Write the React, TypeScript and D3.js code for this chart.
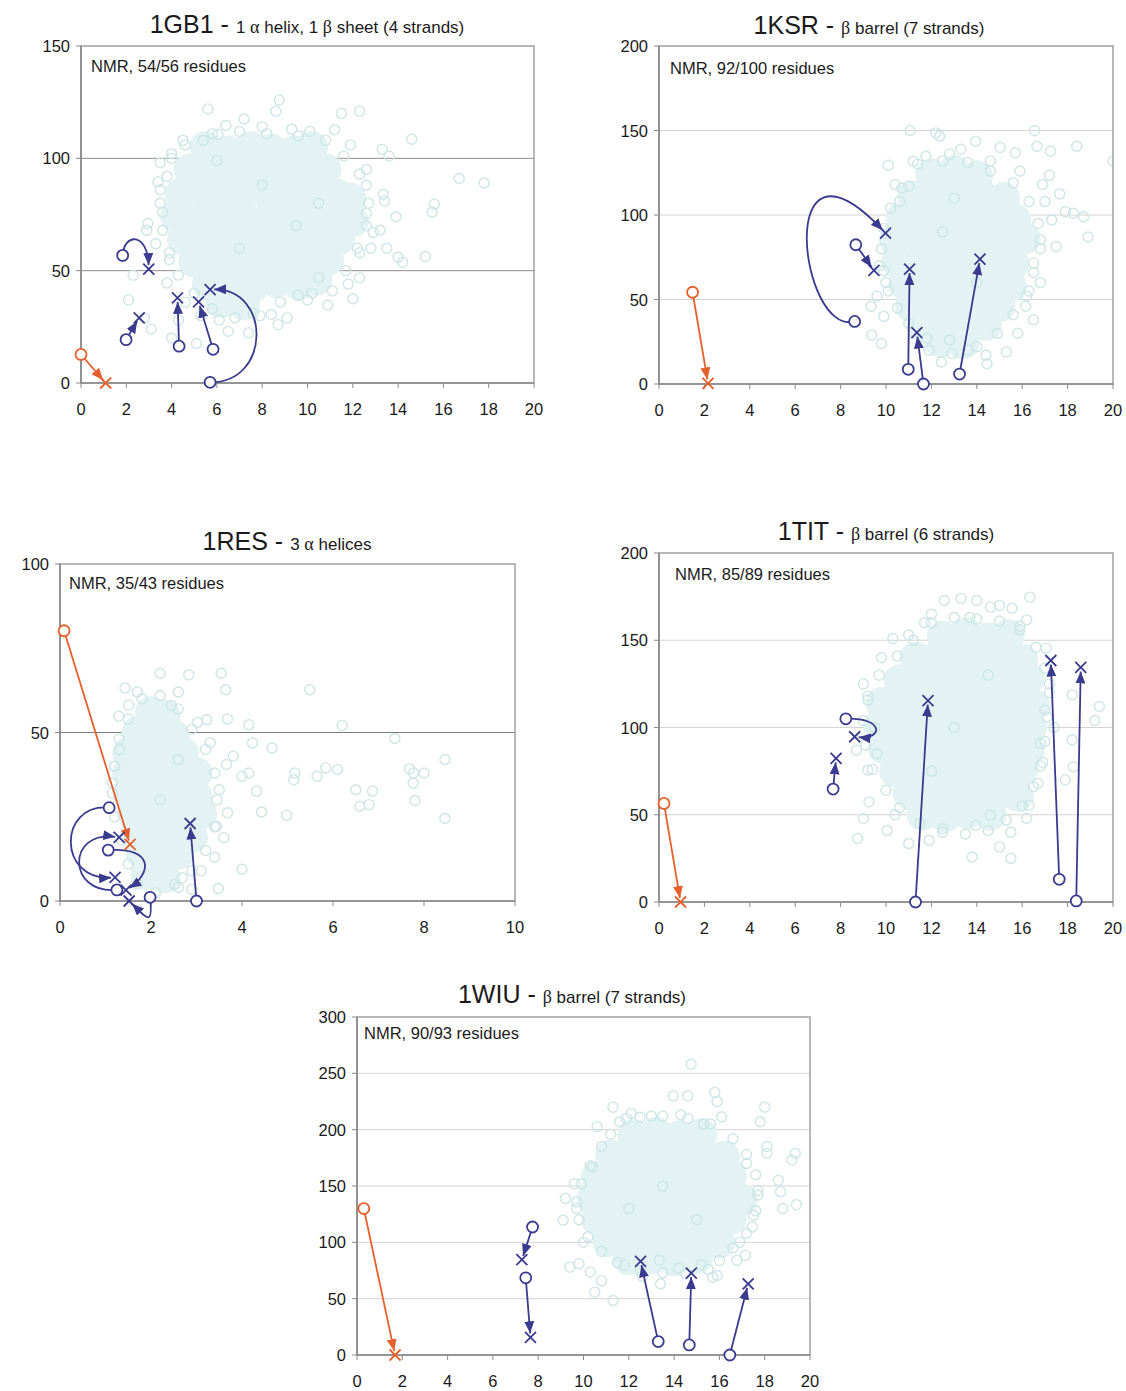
import React from "react";
import * as d3 from "d3";

type Pt = [number, number];
type Move = { from: Pt; to: Pt; ctrl?: [Pt, Pt]; kind: "ref" | "fit" };

const SANS = "'Liberation Sans', Arial, sans-serif";
const SERIF = "'Liberation Serif', 'DejaVu Serif', serif";
const BLUE = "#3a3a8e";
const ORANGE = "#e5602b";

// tick values
const xTicks20 = [0, 2, 4, 6, 8, 10, 12, 14, 16, 18, 20];
const xTicks10 = [0, 2, 4, 6, 8, 10];
const gb1YTicks = [0, 50, 100, 150];
const ksrYTicks = [0, 50, 100, 150, 200];
const resYTicks = [0, 50, 100];
const titYTicks = [0, 50, 100, 150, 200];
const wiuYTicks = [0, 50, 100, 150, 200, 250, 300];

// ---- 1GB1 ----
const gb1Core: Pt[] = [
  [5.5, 105], [6.5, 103], [7.5, 105], [8.4, 104], [9.4, 103], [10.2, 105],
  [4.8, 95], [5.8, 94], [6.8, 95], [7.8, 93], [8.8, 95], [9.8, 94], [10.8, 95],
  [4.4, 84], [5.4, 85], [6.4, 83], [7.3, 85], [8.3, 84], [9.3, 83], [10.3, 85], [11.3, 84], [11.9, 82],
  [4.2, 74], [5.3, 73], [6.3, 75], [7.3, 73], [8.3, 74], [9.3, 75], [10.3, 73], [11.3, 74], [12.0, 72],
  [4.5, 64], [5.5, 63], [6.5, 65], [7.5, 63], [8.5, 64], [9.5, 65], [10.5, 63], [11.4, 64],
  [5.0, 54], [6.0, 55], [7.0, 53], [8.0, 55], [9.0, 53], [10.0, 54], [10.9, 55],
  [5.6, 44], [6.6, 45], [7.6, 43], [8.6, 45], [9.6, 44], [10.4, 46],
  [6.2, 36], [7.2, 35],
];
const gb1Rings: Pt[] = [
  [5.6, 122], [8.75, 126], [8.6, 121], [11.5, 120], [12.3, 121], [14.6, 108.5], [16.7, 91], [17.8, 89],
  [13.9, 74], [15.6, 79.6], [15.5, 76], [15.2, 56.3], [14.2, 53.7], [14.0, 56], [13.5, 60], [13.2, 68],
  [13.35, 84], [13.4, 81], [12.6, 75.5], [12.8, 60], [12.2, 60], [12.3, 46.8], [12.0, 37.5], [10.9, 34.7],
  [10.2, 40], [9.6, 39], [9.1, 29], [8.7, 26], [6.5, 23], [5.1, 17.6], [4.0, 20], [3.1, 24], [2.8, 29],
  [2.1, 37], [2.3, 48], [3.4, 89.5], [3.5, 86], [2.9, 68], [2.95, 71], [4.5, 108], [5.4, 108], [6.05, 110.6],
  [7.2, 117.5], [6.4, 114.6], [10.1, 112], [11.2, 112.7], [13.3, 104], [13.6, 101], [12.6, 95], [7.4, 22.4],
  [8.4, 30.5], [3.8, 44.5], [3.9, 55], [3.3, 62], [3.6, 76], [3.5, 98], [4.0, 102], [8.0, 114], [9.3, 113],
  [11.9, 106], [12.6, 88], [12.9, 67], [11.8, 44], [10.5, 47], [4.6, 36], [5.3, 30], [6.1, 28], [7.6, 31], [4.3, 28],
  [4.0, 100], [4.6, 106], [5.8, 111], [7.0, 112], [8.2, 111], [9.6, 110], [10.8, 108], [11.6, 101],
  [12.3, 93], [12.7, 80], [12.6, 70], [12.3, 58], [11.7, 50], [11.1, 41], [10.0, 37], [8.8, 36], [7.9, 30],
  [6.8, 29], [5.8, 33], [5.0, 40], [4.3, 48], [3.9, 58], [3.6, 68], [3.5, 80], [3.8, 92], [6.0, 99],
  [8.0, 88], [9.5, 70], [7.0, 60], [10.5, 80],
];
const gb1Moves: Move[] = [
  { from: [0, 12.7], to: [1.09, 0], kind: "ref" },
  { from: [1.84, 56.8], to: [2.99, 50.7], ctrl: [[1.9, 67], [2.95, 67]], kind: "fit" },
  { from: [1.99, 19.3], to: [2.57, 29], kind: "fit" },
  { from: [4.33, 16.4], to: [4.26, 37.9], kind: "fit" },
  { from: [5.83, 15], to: [5.19, 36.1], kind: "fit" },
  { from: [5.7, 0.3], to: [5.7, 41.6], ctrl: [[8.4, 0], [8.4, 42]], kind: "fit" },
];

// ---- 1KSR ----
const ksrCore: Pt[] = [
  [12.0, 124], [13.0, 126], [14.0, 123],
  [11.2, 111], [12.2, 113], [13.2, 110], [14.2, 112], [15.2, 110],
  [10.7, 98], [11.7, 99], [12.7, 97], [13.7, 99], [14.7, 98], [15.7, 97],
  [10.4, 85], [11.5, 86], [12.5, 84], [13.5, 86], [14.5, 85], [15.5, 84], [16.1, 86],
  [10.5, 72], [11.6, 73], [12.6, 71], [13.6, 73], [14.6, 72], [15.6, 71],
  [10.8, 59], [11.8, 60], [12.8, 58], [13.8, 60], [14.8, 59], [15.5, 58],
  [11.1, 46], [12.1, 47], [13.1, 45], [14.1, 47], [15.0, 46],
  [11.6, 34], [12.6, 35], [13.6, 33], [14.4, 35],
  [12.4, 25], [13.4, 24],
];
const ksrRings: Pt[] = [
  [11.06, 150], [12.2, 148.6], [12.36, 146.6], [16.55, 150], [16.65, 140.7], [18.4, 140.7], [15.03, 140],
  [13.95, 143.7], [15.7, 136.8], [17.25, 137.7], [20, 132], [10.1, 129.4], [11.2, 131.8], [11.76, 134.8],
  [17.2, 123.5], [17.65, 112.5], [17.9, 102], [18.25, 101], [18.7, 99], [18.9, 87], [17.3, 97], [17.5, 81.4],
  [16.8, 85.4], [16.5, 71.5], [16.15, 46], [16.5, 38], [15.3, 19], [14.4, 17], [14.45, 12], [12.44, 13],
  [12.8, 26], [9.8, 24], [9.37, 29], [9.34, 46], [9.6, 52], [10.6, 108], [11.0, 117], [16.9, 118], [17.0, 108],
  [16.8, 60], [16.3, 55], [15.8, 30], [10.0, 60], [9.7, 70], [10.4, 118], [12.8, 136], [14.6, 132], [13.3, 139],
  [15.9, 126], [11.9, 20], [13.6, 20], [9.9, 40],
  [11.4, 130], [12.5, 132], [13.6, 131], [14.6, 126], [15.6, 119], [16.3, 108], [16.7, 95], [16.8, 80],
  [16.5, 66], [16.2, 52], [15.6, 41], [14.9, 30], [14.0, 22], [12.9, 18], [11.8, 27], [11.0, 36], [10.5, 45],
  [10.1, 55], [9.9, 67], [9.8, 80], [9.9, 92], [10.2, 104], [10.7, 116], [12.5, 90], [14.0, 60], [13.0, 110],
];
const ksrMoves: Move[] = [
  { from: [1.48, 54.3], to: [2.16, 0.4], kind: "ref" },
  { from: [8.62, 37], to: [9.98, 89.3], ctrl: [[6.2, 28], [5.0, 160]], kind: "fit" },
  { from: [8.67, 82.4], to: [9.47, 67.2], kind: "fit" },
  { from: [10.98, 8.7], to: [11.04, 68], kind: "fit" },
  { from: [11.65, 0], to: [11.36, 30.4], kind: "fit" },
  { from: [13.24, 5.9], to: [14.14, 73.9], kind: "fit" },
];

// ---- 1RES ----
const resCore: Pt[] = [
  [2.0, 56], [2.3, 55],
  [1.7, 50], [2.1, 51], [2.5, 49],
  [1.5, 44], [1.9, 45], [2.3, 43], [2.7, 44],
  [1.5, 38], [1.9, 37], [2.3, 39], [2.7, 37], [3.0, 38],
  [1.5, 32], [1.9, 33], [2.3, 31], [2.7, 32], [3.0, 31],
  [1.6, 26], [2.0, 25], [2.4, 27], [2.8, 25], [3.1, 26],
  [1.7, 20], [2.1, 19], [2.5, 20], [2.9, 19],
  [1.8, 14], [2.2, 13], [2.6, 14],
  [1.9, 8], [2.3, 7],
];
const resRings: Pt[] = [
  [2.2, 67.6], [2.83, 67.1], [3.54, 67.6], [1.43, 63.2], [3.64, 62.7], [2.6, 62], [5.49, 62.7], [1.51, 58.2],
  [1.29, 54.8], [3.02, 53], [3.23, 53.8], [3.68, 54], [4.15, 52.3], [6.2, 52.1], [4.23, 46.9], [4.66, 45.4],
  [3.81, 43], [7.36, 48.2], [8.46, 42], [3.66, 40.5], [4.0, 37], [4.15, 38], [5.16, 38], [5.14, 36], [5.65, 37],
  [5.84, 39.5], [6.1, 39], [7.68, 39.2], [7.77, 38], [8.0, 38], [7.76, 35], [4.32, 32.6], [4.43, 26.4],
  [4.98, 25.4], [6.5, 33], [6.59, 28.1], [6.79, 28.6], [6.87, 32.6], [7.8, 29.8], [8.46, 24.5], [3.68, 26.2],
  [3.44, 22.2], [3.6, 18.8], [4.0, 9.4], [3.48, 3.7], [2.52, 4.9], [2.69, 6.9], [1.31, 44.9], [1.2, 40],
  [1.15, 35], [3.3, 47], [3.5, 33], [3.4, 13], [3.1, 9], [2.9, 3.5], [1.7, 62], [2.45, 58],
  [1.8, 60], [2.2, 61], [2.6, 57], [2.9, 51], [3.2, 45], [3.4, 38], [3.45, 30], [3.4, 22], [3.2, 15],
  [2.9, 9], [2.6, 4], [2.1, 2.5], [1.7, 5], [1.5, 11], [1.35, 18], [1.2, 25], [1.15, 32], [1.2, 40],
  [1.3, 48], [1.5, 54], [2.2, 30], [2.6, 42],
];
const resMoves: Move[] = [
  { from: [0.09, 80.2], to: [1.54, 16.8], kind: "ref" },
  { from: [1.08, 27.7], to: [1.21, 7.0], ctrl: [[-0.05, 29], [-0.05, 6]], kind: "fit" },
  { from: [1.25, 3.3], to: [1.3, 18.9], ctrl: [[0.15, 2], [0.15, 21]], kind: "fit" },
  { from: [1.06, 15.1], to: [1.45, 3.2], ctrl: [[2.1, 16], [2.0, 8]], kind: "fit" },
  { from: [1.98, 1.1], to: [1.52, 0], ctrl: [[2.05, -8], [1.9, -5]], kind: "fit" },
  { from: [3.0, 0], to: [2.86, 23], kind: "fit" },
];

// ---- 1TIT ----
const titCore: Pt[] = [
  [12.5, 152], [13.5, 154], [14.5, 151], [15.4, 153],
  [11.3, 140], [12.3, 141], [13.3, 139], [14.3, 141], [15.3, 140], [16.0, 139],
  [10.6, 127], [11.6, 128], [12.6, 126], [13.6, 128], [14.6, 127], [15.6, 126], [16.3, 128],
  [9.8, 114], [10.8, 115], [11.8, 113], [12.8, 115], [13.8, 114], [14.8, 113], [15.8, 115], [16.5, 113],
  [9.7, 101], [10.7, 102], [11.7, 100], [12.7, 102], [13.7, 101], [14.7, 100], [15.7, 102], [16.4, 100],
  [9.9, 88], [10.9, 89], [11.9, 87], [12.9, 89], [13.9, 88], [14.9, 87], [15.9, 89], [16.3, 87],
  [10.4, 75], [11.4, 76], [12.4, 74], [13.4, 76], [14.4, 75], [15.4, 74], [16.0, 76],
  [11.0, 62], [12.0, 63], [13.0, 61], [14.0, 63], [15.0, 62], [15.8, 61],
  [11.6, 50], [12.6, 49], [13.6, 51], [14.6, 50],
];
const titRings: Pt[] = [
  [12.57, 172.8], [13.3, 174], [14.0, 172.8], [14.6, 169], [15.55, 168.4], [16.34, 174.7], [15.0, 170],
  [16.2, 161.7], [11.0, 153], [10.3, 151], [17.05, 145.5], [18.2, 118.7], [19.4, 112], [19.2, 104],
  [18.2, 93], [18.25, 77.5], [17.9, 70], [16.8, 91], [16.7, 68], [16.3, 55.5], [16.2, 48], [15.5, 40],
  [15.0, 31.6], [15.5, 25], [13.8, 25.8], [13.95, 44], [11.9, 35.4], [11.0, 33.5], [10.05, 41], [8.75, 36.4],
  [9.0, 47.8], [9.25, 57.4], [9.2, 75.6], [8.7, 87], [9.2, 115.8], [9.0, 125], [14.6, 49.8], [12.0, 165],
  [13.7, 163], [9.8, 140], [9.5, 100], [9.6, 85], [17.2, 125], [17.4, 100], [17.0, 110], [12.5, 40],
  [10.4, 50], [16.9, 80], [11.7, 160], [15.9, 158],
  [12.0, 160], [13.0, 163], [14.0, 162], [15.0, 161], [15.9, 156], [16.6, 146], [17.0, 134], [17.2, 120],
  [17.1, 106], [17.0, 92], [16.8, 78], [16.5, 66], [16.0, 55], [15.3, 47], [14.5, 41], [13.5, 39], [12.5, 42],
  [11.5, 45], [10.6, 54], [10.0, 64], [9.4, 76], [9.1, 90], [9.0, 104], [9.2, 118], [9.7, 130], [10.5, 141],
  [11.2, 150], [13.0, 100], [14.5, 130], [12.0, 75],
];
const titMoves: Move[] = [
  { from: [0.22, 56.5], to: [0.95, 0], kind: "ref" },
  { from: [7.67, 64.7], to: [7.8, 82.3], kind: "fit" },
  { from: [8.23, 105], to: [8.62, 94.7], ctrl: [[9.9, 106], [9.9, 93]], kind: "fit" },
  { from: [11.3, 0], to: [11.85, 115.4], kind: "fit" },
  { from: [17.63, 13], to: [17.26, 138.4], kind: "fit" },
  { from: [18.38, 0.6], to: [18.58, 134.4], kind: "fit" },
];

// ---- 1WIU ----
const wiuCore: Pt[] = [
  [12.2, 195], [13.2, 197], [14.2, 194], [15.2, 196],
  [11.2, 177], [12.2, 178], [13.2, 176], [14.2, 178], [15.2, 177], [16.2, 176],
  [10.6, 158], [11.6, 159], [12.6, 157], [13.6, 159], [14.6, 158], [15.6, 157], [16.5, 159],
  [10.4, 139], [11.4, 140], [12.4, 138], [13.4, 140], [14.4, 139], [15.4, 138], [16.4, 140], [17.0, 138],
  [10.6, 120], [11.6, 121], [12.6, 119], [13.6, 121], [14.6, 120], [15.6, 119], [16.5, 121],
  [11.1, 101], [12.1, 102], [13.1, 100], [14.1, 102], [15.1, 101], [16.0, 100],
  [12.0, 85], [13.0, 86], [14.0, 84], [15.0, 86],
];
const wiuRings: Pt[] = [
  [14.75, 258], [13.96, 230], [14.6, 230], [15.8, 233], [15.9, 225], [11.3, 220], [12.1, 214.5], [11.9, 210],
  [18.0, 220], [17.8, 207], [16.1, 211.5], [10.6, 202.7], [18.1, 185], [18.1, 179], [19.35, 179], [19.2, 173],
  [18.6, 155], [18.7, 145], [18.8, 130], [19.4, 133.5], [17.7, 146], [17.45, 113.6], [17.15, 88.4], [16.77, 84],
  [15.9, 70.6], [15.7, 69], [13.4, 63.2], [13.35, 84], [11.3, 48.4], [10.5, 55.8], [10.8, 66], [10.3, 73.6],
  [9.4, 78], [9.8, 81], [9.1, 119.6], [9.2, 139], [9.6, 152], [10.4, 167], [13.0, 212], [14.3, 213],
  [15.3, 205], [17.2, 170], [17.6, 128], [16.9, 100], [11.8, 80], [10.0, 100], [9.7, 130], [12.6, 70],
  [14.2, 77], [15.2, 80],
  [11.6, 207], [12.5, 211], [13.5, 212], [14.6, 210], [15.6, 205], [16.6, 192], [17.2, 178], [17.6, 160],
  [17.7, 142], [17.5, 124], [17.2, 108], [16.6, 95], [16.0, 84], [15.5, 76], [14.5, 72], [13.5, 73],
  [12.5, 75], [11.5, 82], [10.8, 92], [10.2, 105], [9.8, 120], [9.7, 136], [9.9, 152], [10.3, 168],
  [10.8, 185], [11.2, 196], [13.5, 150], [15.0, 120], [12.0, 130],
];
const wiuMoves: Move[] = [
  { from: [0.3, 130], to: [1.68, 0], kind: "ref" },
  { from: [7.75, 113.6], to: [7.28, 84.6], kind: "fit" },
  { from: [7.45, 68.5], to: [7.66, 15.7], kind: "fit" },
  { from: [13.3, 11.9], to: [12.52, 83.1], kind: "fit" },
  { from: [14.67, 8.9], to: [14.76, 72.7], kind: "fit" },
  { from: [16.46, 0], to: [17.27, 63.2], kind: "fit" },
];

const panels = [
  {
    id: "gb1", code: "1GB1", sub: "1 α helix, 1 β sheet (4 strands)", note: "NMR, 54/56 residues",
    xTicks: xTicks20, yTicks: gb1YTicks, box: [81, 46, 534, 383], grid: "#8e8e8e",
    titleX: 307, titleY: 33, noteDx: 10, noteDy: 26,
    core: gb1Core, rings: gb1Rings, moves: gb1Moves,
  },
  {
    id: "ksr", code: "1KSR", sub: "β barrel (7 strands)", note: "NMR, 92/100 residues",
    xTicks: xTicks20, yTicks: ksrYTicks, box: [659, 46, 1113, 384], grid: "#d4d4d4",
    titleX: 869, titleY: 34, noteDx: 11, noteDy: 28,
    core: ksrCore, rings: ksrRings, moves: ksrMoves,
  },
  {
    id: "res", code: "1RES", sub: "3 α helices", note: "NMR, 35/43 residues",
    xTicks: xTicks10, yTicks: resYTicks, box: [60, 564, 515, 901], grid: "#7a7a7a",
    titleX: 287, titleY: 550, noteDx: 9, noteDy: 25,
    core: resCore, rings: resRings, moves: resMoves,
  },
  {
    id: "tit", code: "1TIT", sub: "β barrel (6 strands)", note: "NMR, 85/89 residues",
    xTicks: xTicks20, yTicks: titYTicks, box: [659, 553, 1113, 902], grid: "#d4d4d4",
    titleX: 886, titleY: 540, noteDx: 16, noteDy: 27,
    core: titCore, rings: titRings, moves: titMoves,
  },
  {
    id: "wiu", code: "1WIU", sub: "β barrel (7 strands)", note: "NMR, 90/93 residues",
    xTicks: xTicks20, yTicks: wiuYTicks, box: [357, 1017, 810, 1355], grid: "#d4d4d4",
    titleX: 572, titleY: 1003, noteDx: 7, noteDy: 22,
    core: wiuCore, rings: wiuRings, moves: wiuMoves,
  },
];

function Subtitle({ text }: { text: string }) {
  // greek letters come out in a serif face, like the Symbol font of the original
  const parts = text.split(/([αβ])/).filter((s) => s.length);
  return (
    <>
      {parts.map((s, i) =>
        /[αβ]/.test(s) ? (
          <tspan key={i} fontFamily={SERIF} fontSize={18}>{s}</tspan>
        ) : (
          <tspan key={i} fontSize={17}>{s}</tspan>
        )
      )}
    </>
  );
}

function Panel({ cfg }: { cfg: any }) {
  const [l, t, r, b] = cfg.box;
  const x = d3.scaleLinear().domain([0, cfg.xTicks[cfg.xTicks.length - 1]]).range([l, r]);
  const y = d3.scaleLinear().domain([0, cfg.yTicks[cfg.yTicks.length - 1]]).range([b, t]);
  const clipId = `clip-${cfg.id}`;

  const moveParts = cfg.moves.map((m: Move) => {
    const S: Pt = [x(m.from[0]), y(m.from[1])];
    const E: Pt = [x(m.to[0]), y(m.to[1])];
    const C = m.ctrl ? m.ctrl.map(([a, c]) => [x(a), y(c)] as Pt) : null;
    const back = C ? C[1] : S;
    const dx = E[0] - back[0], dy = E[1] - back[1];
    const len = Math.hypot(dx, dy) || 1;
    const tip: Pt = [E[0] - (dx / len) * 4, E[1] - (dy / len) * 4];
    const p = d3.path();
    p.moveTo(S[0], S[1]);
    if (C) p.bezierCurveTo(C[0][0], C[0][1], C[1][0], C[1][1], tip[0], tip[1]);
    else p.lineTo(tip[0], tip[1]);
    return { d: p.toString(), S, E, color: m.kind === "ref" ? ORANGE : BLUE, kind: m.kind };
  });

  return (
    <g>
      <defs>
        <clipPath id={clipId}>
          <rect x={l} y={t} width={r - l} height={b - t} />
        </clipPath>
      </defs>
      {cfg.yTicks.slice(1, -1).map((v: number) => (
        <line key={v} x1={l} x2={r} y1={y(v)} y2={y(v)} stroke={cfg.grid} strokeWidth={1} />
      ))}
      <g clipPath={`url(#${clipId})`}>
        {cfg.core.map(([a, c]: Pt, i: number) => (
          <circle key={"c" + i} cx={x(a)} cy={y(c)} r={16} fill="#e3f2f2" />
        ))}
        {cfg.rings.map(([a, c]: Pt, i: number) => (
          <circle key={"r" + i} cx={x(a)} cy={y(c)} r={5} fill="none" stroke="#cde6e6" strokeWidth={1.4} />
        ))}
      </g>
      {/* plot frame */}
      <rect x={l} y={t} width={r - l} height={b - t} fill="none" stroke="#a6a6a6" strokeWidth={1.6} />
      <line x1={l} x2={l} y1={t} y2={b} stroke="#8a8a8a" strokeWidth={1.6} />
      <line x1={l} x2={r} y1={b} y2={b} stroke="#8a8a8a" strokeWidth={1.6} />
      {cfg.xTicks.map((v: number) => (
        <g key={"xt" + v}>
          <line x1={x(v)} x2={x(v)} y1={b} y2={b + 5} stroke="#8a8a8a" strokeWidth={1} />
          <text x={x(v)} y={b + 32} textAnchor="middle" fontFamily={SANS} fontSize={16.5} fill="#1a1a1a">{v}</text>
        </g>
      ))}
      {cfg.yTicks.map((v: number) => (
        <g key={"yt" + v}>
          <line x1={l - 5} x2={l} y1={y(v)} y2={y(v)} stroke="#8a8a8a" strokeWidth={1} />
          <text x={l - 11} y={y(v) + 6} textAnchor="end" fontFamily={SANS} fontSize={16.5} fill="#1a1a1a">{v}</text>
        </g>
      ))}
      <text x={cfg.titleX} y={cfg.titleY} textAnchor="middle" fontFamily={SANS} fill="#1a1a1a">
        <tspan fontSize={25}>{cfg.code} - </tspan>
        <Subtitle text={cfg.sub} />
      </text>
      <text x={l + cfg.noteDx} y={t + cfg.noteDy} fontFamily={SANS} fontSize={16.5} fill="#1a1a1a">{cfg.note}</text>
      {moveParts.map((m: any, i: number) => (
        <path key={"m" + i} d={m.d} fill="none" stroke={m.color} strokeWidth={1.8}
          markerEnd={`url(#ah-${m.kind})`} />
      ))}
      {moveParts.map((m: any, i: number) => (
        <g key={"k" + i} stroke={m.color} strokeWidth={1.8}>
          <circle cx={m.S[0]} cy={m.S[1]} r={5.5} fill="#fff" />
          <line x1={m.E[0] - 5.5} x2={m.E[0] + 5.5} y1={m.E[1] - 5.5} y2={m.E[1] + 5.5} />
          <line x1={m.E[0] - 5.5} x2={m.E[0] + 5.5} y1={m.E[1] + 5.5} y2={m.E[1] - 5.5} />
        </g>
      ))}
    </g>
  );
}

export default function App() {
  return (
    <svg width={1126} height={1391} style={{ position: "absolute", left: 0, top: 0, background: "#fff" }}>
      <defs>
        <marker id="ah-fit" viewBox="0 0 12 10" refX={12} refY={5} markerWidth={12} markerHeight={10}
          markerUnits="userSpaceOnUse" orient="auto">
          <path d="M0,0L12,5L0,10z" fill={BLUE} />
        </marker>
        <marker id="ah-ref" viewBox="0 0 12 10" refX={12} refY={5} markerWidth={12} markerHeight={10}
          markerUnits="userSpaceOnUse" orient="auto">
          <path d="M0,0L12,5L0,10z" fill={ORANGE} />
        </marker>
      </defs>
      <rect width={1126} height={1391} fill="#fff" />
      {panels.map((p) => (
        <Panel key={p.id} cfg={p} />
      ))}
    </svg>
  );
}
